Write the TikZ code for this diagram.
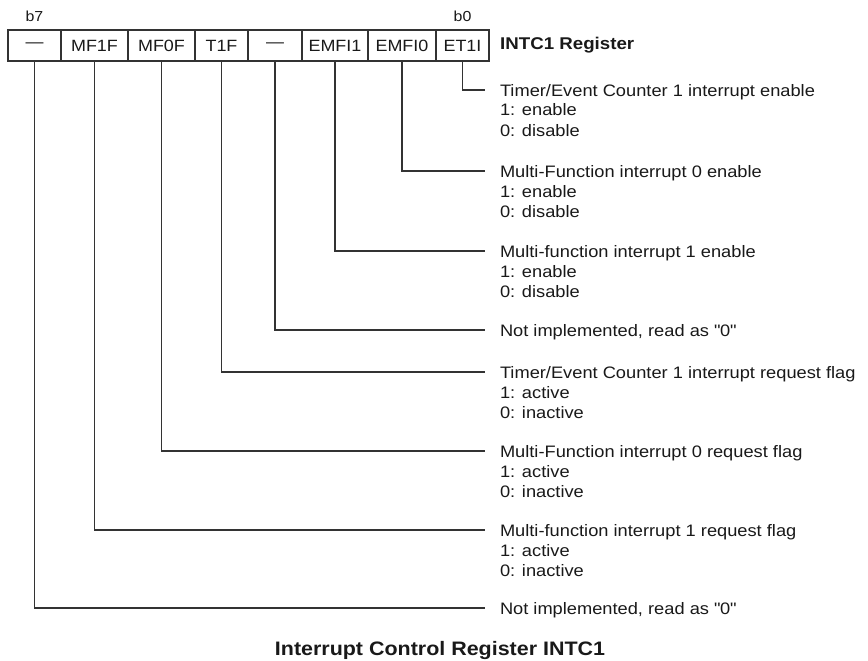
\documentclass[tikz,border=0pt]{standalone}
\usepackage{fontspec}
\setmainfont{Liberation Sans}[FakeStretch=1.1]
\usepackage{tikz}
\usetikzlibrary{positioning}

\begin{document}
\begin{tikzpicture}[
    x=1pt, y=-1pt,
    bit_cell/.style={
        rectangle,
        draw=black!80,
        line width=1.1pt,
        outer sep=0pt,
        inner sep=0pt,
        minimum height=31pt,
        minimum width=#1,
        text=black!90,
        font=\fontsize{16.3}{18}\selectfont
    },
    bit_label/.style={
        inner sep=0pt,
        text=black!90,
        font=\fontsize{14.5}{16}\selectfont
    },
    desc_node/.style={
        inner sep=0pt,
        outer sep=0pt,
        text height=16pt,
        text depth=4pt,
        text=black!90,
        font=\fontsize{16.6}{20}\selectfont
    },
    lead_line/.style={
        draw=black!80,
        line width=1.1pt
    }
]
    \useasboundingbox (0,0) rectangle (868,661);

    % Register cells
    \node (c7) [bit_cell=53pt, anchor=west] at (8,45.5) {---};
    \node (c6) [bit_cell=67pt, right=0pt of c7] {MF1F};
    \node (c5) [bit_cell=67pt, right=0pt of c6] {MF0F};
    \node (c4) [bit_cell=53pt, right=0pt of c5] {T1F};
    \node (c3) [bit_cell=54pt, right=0pt of c4] {---};
    \node (c2) [bit_cell=66pt, right=0pt of c3] {EMFI1};
    \node (c1) [bit_cell=68pt, right=0pt of c2] {EMFI0};
    \node (c0) [bit_cell=53pt, right=0pt of c1] {ET1I};

    \node (b7) [bit_label, above=8pt of c7] {b7};
    \node (b0) [bit_label, above=8pt of c0] {b0};
    \node (reg) [anchor=west, inner sep=0pt, text=black!90, font=\fontsize{17}{20}\selectfont\bfseries] at (500,45.5) {INTC1 Register};

    % Line ends
    \coordinate (e0) at (485,90);
    \coordinate (e1) at (485,171);
    \coordinate (e2) at (485,251);
    \coordinate (e3) at (485,330);
    \coordinate (e4) at (485,372);
    \coordinate (e5) at (485,451);
    \coordinate (e6) at (485,530);
    \coordinate (e7) at (485,608);

    % Bit descriptions
    \node (d0) [desc_node, right=15pt of e0] {Timer/Event Counter 1 interrupt enable};
    \node (d0on) [desc_node, below right=0pt and 0pt of d0.south west] {1: enable};
    \node (d0off) [desc_node, below right=0pt and 0pt of d0on.south west] {0: disable};

    \node (d1) [desc_node, right=15pt of e1] {Multi-Function interrupt 0 enable};
    \node (d1on) [desc_node, below right=0pt and 0pt of d1.south west] {1: enable};
    \node (d1off) [desc_node, below right=0pt and 0pt of d1on.south west] {0: disable};

    \node (d2) [desc_node, right=15pt of e2] {Multi-function interrupt 1 enable};
    \node (d2on) [desc_node, below right=0pt and 0pt of d2.south west] {1: enable};
    \node (d2off) [desc_node, below right=0pt and 0pt of d2on.south west] {0: disable};

    \node (d3) [desc_node, right=15pt of e3] {Not implemented, read as \textquotedbl0\textquotedbl};

    \node (d4) [desc_node, right=15pt of e4] {Timer/Event Counter 1 interrupt request flag};
    \node (d4on) [desc_node, below right=0pt and 0pt of d4.south west] {1: active};
    \node (d4off) [desc_node, below right=0pt and 0pt of d4on.south west] {0: inactive};

    \node (d5) [desc_node, right=15pt of e5] {Multi-Function interrupt 0 request flag};
    \node (d5on) [desc_node, below right=0pt and 0pt of d5.south west] {1: active};
    \node (d5off) [desc_node, below right=0pt and 0pt of d5on.south west] {0: inactive};

    \node (d6) [desc_node, right=15pt of e6] {Multi-function interrupt 1 request flag};
    \node (d6on) [desc_node, below right=0pt and 0pt of d6.south west] {1: active};
    \node (d6off) [desc_node, below right=0pt and 0pt of d6on.south west] {0: inactive};

    \node (d7) [desc_node, right=15pt of e7] {Not implemented, read as \textquotedbl0\textquotedbl};

    % Leader lines
    \foreach \i in {0,...,7}
        \draw [lead_line] (c\i.south) |- (e\i);

    % Caption
    \node (cap) [inner sep=0pt, text=black!90, font=\fontsize{19.5}{22}\selectfont\bfseries] at (440,650) {Interrupt Control Register INTC1};

\end{tikzpicture}
\end{document}
